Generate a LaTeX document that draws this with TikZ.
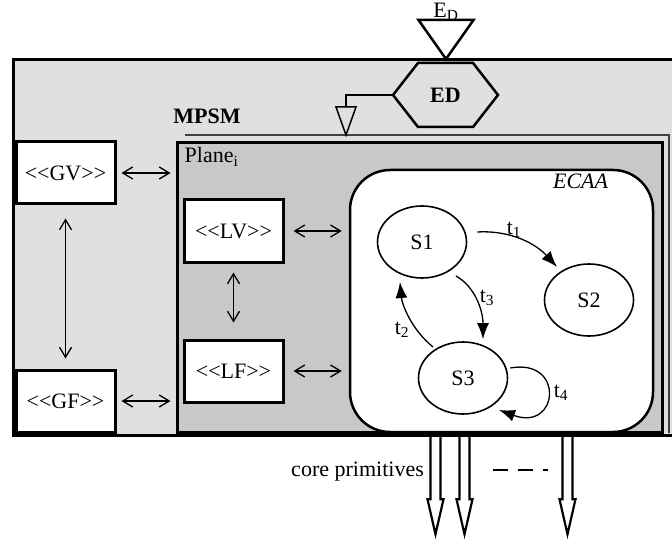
\documentclass[tikz,border=0pt]{standalone}
\usepackage{fontspec}
\setmainfont{Liberation Serif}
\usepackage{tikz}
\usetikzlibrary{arrows.meta, positioning, shapes.geometric, calc}
\definecolor{outerbg}{HTML}{DFE0E2}
\definecolor{planebg}{HTML}{C8C8C9}
\newcommand{\diafont}{\fontsize{22}{25}\selectfont}
\newcommand{\stereo}[1]{<\kern0pt<#1>\kern0pt>}

\begin{document}
\begin{tikzpicture}[x=1pt, y=-1pt,
    every node/.style={font=\diafont},
    role/.style={rectangle, draw, line width=3pt, fill=white,
                 minimum width=99pt, minimum height=62pt, inner sep=0pt},
    state/.style={ellipse, draw, line width=1.6pt, minimum width=89pt, minimum height=72pt},
    link/.style={{Straight Barb[length=10pt,width=12pt]}-{Straight Barb[length=10pt,width=12pt]},
                 line width=1.3pt},
    trans/.style={-{Latex[length=16pt,width=12pt]}, line width=1.3pt},
    prim/.style={line width=2.2pt, line join=miter}
]
\useasboundingbox (0,0) rectangle (672,540);
% outer frame
\fill[outerbg] (13,60) rectangle (672,435);
\draw[line width=3pt] (672,60) -- (13,60) -- (13,435) -- (672,435);
\node[font=\bfseries\diafont] (mpsm) at (207,116) {MPSM};
\draw[line width=1.3pt, black!75] (185,135) -- (669,135) -- (669,433);

% plane and automaton
\node[rectangle, draw, line width=3pt, fill=planebg,
      minimum width=485pt, minimum height=289pt] (plane) at (419.5,287.5) {};
\node[anchor=north west, inner sep=0pt] (planelbl) at ([shift={(9,6)}]plane.north west) {Plane\textsubscript{i}};
\node[rectangle, rounded corners=40pt, draw, line width=2.5pt, fill=white,
      minimum width=303pt, minimum height=262pt] (ECAA) at (501.5,301) {};
\node[anchor=north east, inner sep=0pt, font=\diafont\itshape] (ecaalbl) at ([shift={(-46,5)}]ECAA.north east) {ECAA};

% views and functions
\node[role] (GV) at (65.5,173) {\stereo{GV}};
\node[role, below=163pt of GV] (GF) {\stereo{GF}};
\node[role] (LV) at (233.5,231) {\stereo{LV}};
\node[role, below=75pt of LV] (LF) {\stereo{LF}};
\draw[link, shorten <=5pt, shorten >=5pt] (GV.east) -- (GV.east -| plane.west);
\draw[link, shorten <=5pt, shorten >=5pt] (GF.east) -- (GF.east -| plane.west);
\draw[link, shorten <=13pt, shorten >=10pt] (GV.south) -- (GF.north);
\draw[link, shorten <=9pt, shorten >=16pt] (LV.south) -- (LF.north);
\draw[link, shorten <=9pt, shorten >=7pt] (LV.east) -- (LV.east -| ECAA.west);
\draw[link, shorten <=9pt, shorten >=7pt] (LF.east) -- (LF.east -| ECAA.west);

% states
\node[state] (S1) at (422,242) {S1};
\node[state] (S2) at (589,300) {S2};
\node[state] (S3) at (463,378) {S3};
\draw[trans] ([shift={(10,-10)}]S1.east) .. controls +(35,-2) and +(-20,-22) .. ([shift={(0,-7)}]S2.north west);
\draw[trans] ([shift={(2,8)}]S1.south east) .. controls +(18,10) and +(0,-30) .. ([shift={(20,-2)}]S3.north);
\draw[trans] ([shift={(2,-5)}]S3.north west) .. controls +(-22,-18) and +(2,22) .. ([shift={(10,14)}]S1.south west);
\draw[trans] ([shift={(2,-10)}]S3.east) .. controls +(55,-10) and +(60,22) .. ([shift={(4,6)}]S3.south east);
\node (lt1) at (514,230) {t\textsubscript{1}};
\node (lt3) at (487,298) {t\textsubscript{3}};
\node (lt2) at (402,330) {t\textsubscript{2}};
\node (lt4) at (561,393) {t\textsubscript{4}};

% event detector
\coordinate (edc) at (445.5,95);
\draw[line width=2.5pt, fill=outerbg] ([xshift=-52.5]edc) -- ++(25,-32) -- ++(55,0)
    -- ++(25,32) -- ++(-25,32) -- ++(-55,0) -- cycle;
\node[font=\bfseries\diafont] (ED) at (edc) {ED};
\node[anchor=south, inner sep=1pt] (EDsrc) at (446,22) {E\textsubscript{D}};
\draw[line width=2.5pt, line join=miter] ([yshift=2]EDsrc.south) ++(-27.5,0) -- ++(55,0) -- ++(-27.5,39) -- cycle;
\draw[line width=1.5pt] ([xshift=-52.5]edc) -- ++(-47,0) coordinate (drop) -- ++(0,12);
\draw[line width=1.5pt, line join=miter] (drop) ++(-10,12) -- ++(20,0) -- ++(-10,28) -- cycle;

% core primitives
\foreach \dx in {-66,-37,66}
    \draw[prim] ([xshift=\dx pt - 5pt]ECAA.south) -- ++(0,66) -- ++(-3,0) -- ++(8,35)
        -- ++(8,-35) -- ++(-3,0) -- ++(0,-66);
\node[anchor=east, inner sep=0pt] (core) at (424,472) {core primitives};
\draw[line width=2pt, dash pattern=on 15pt off 10pt] (493,470) -- (548,470);
\end{tikzpicture}
\end{document}
